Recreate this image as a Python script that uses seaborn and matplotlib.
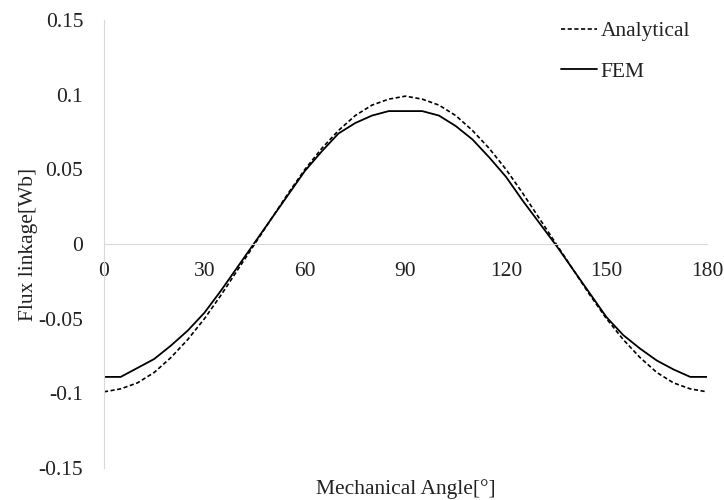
import numpy as np
import pandas as pd
import seaborn as sns
from matplotlib import pyplot as plt

# angles, 5 degree steps
angle = [0, 5, 10, 15, 20, 25, 30, 35, 40, 45, 50, 55, 60, 65, 70, 75, 80, 85, 90,
         95, 100, 105, 110, 115, 120, 125, 130, 135, 140, 145, 150, 155, 160, 165, 170, 175, 180]

analytical = [-0.099, -0.097, -0.093, -0.086, -0.076, -0.064, -0.050, -0.034, -0.017, 0.000,
              0.017, 0.034, 0.050, 0.064, 0.076, 0.086, 0.093, 0.097, 0.099,
              0.097, 0.093, 0.086, 0.076, 0.064, 0.050, 0.034, 0.017, 0.000,
              -0.017, -0.034, -0.050, -0.064, -0.076, -0.086, -0.093, -0.097, -0.099]

fem = [-0.089, -0.089, -0.083, -0.077, -0.068, -0.058, -0.046, -0.031, -0.015, 0.001,
       0.017, 0.033, 0.049, 0.062, 0.074, 0.081, 0.086, 0.089, 0.089,
       0.089, 0.086, 0.079, 0.070, 0.058, 0.045, 0.029, 0.014, -0.001,
       -0.017, -0.033, -0.049, -0.061, -0.070, -0.078, -0.084, -0.089, -0.089]

x_ticks = [0, 30, 60, 90, 120, 150, 180]
y_ticks = [-0.15, -0.1, -0.05, 0, 0.05, 0.1, 0.15]
y_labels = ['-0.15', '-0.1', '-0.05', '0', '0.05', '0.1', '0.15']

FS = 15.5

sns.set_style('white')
plt.rcParams['font.family'] = ['Liberation Serif', 'DejaVu Serif']

fig = plt.figure(figsize=(7.24, 5), dpi=100)
ax = fig.add_axes([0.1436, 0.064, 0.8329, 0.896])

sns.lineplot(x=angle, y=analytical, ax=ax, color='black', linewidth=1.2,
             linestyle=(0, (2.5, 1.5)), label='Analytical')
sns.lineplot(x=angle, y=fem, ax=ax, color='black', linewidth=1.3, label='FEM')

ax.set_xlim(0, 180)
ax.set_ylim(-0.15, 0.15)

for s in ['top', 'right']:
    ax.spines[s].set_visible(False)
ax.spines['bottom'].set_position(('data', 0))
ax.spines['bottom'].set_color('#d9d9d9')
ax.spines['left'].set_color('#d9d9d9')

ax.set_xticks(x_ticks)
ax.set_xticklabels([str(t) for t in x_ticks])
ax.set_yticks(y_ticks)
ax.set_yticklabels(y_labels)
ax.tick_params(axis='both', length=0, labelsize=FS, labelcolor='#222222')
ax.tick_params(axis='y', pad=15)
ax.tick_params(axis='x', pad=13)

ax.set_xlabel('Mechanical Angle[°]', fontsize=FS, color='#222222')
ax.set_ylabel('Flux linkage[Wb]', fontsize=FS, color='#222222')
ax.xaxis.set_label_coords(0.5, -0.025)
ax.yaxis.set_label_coords(-0.11, 0.5)

leg = ax.legend(loc='upper right', bbox_to_anchor=(690 / 724, 1 - 21 / 500),
                bbox_transform=fig.transFigure, frameon=False, fontsize=FS,
                borderpad=0, borderaxespad=0,
                handlelength=1.7, handletextpad=0.15, labelspacing=0.95)
for t in leg.get_texts():
    t.set_color('#222222')

fig.savefig('out.png', dpi=100)
